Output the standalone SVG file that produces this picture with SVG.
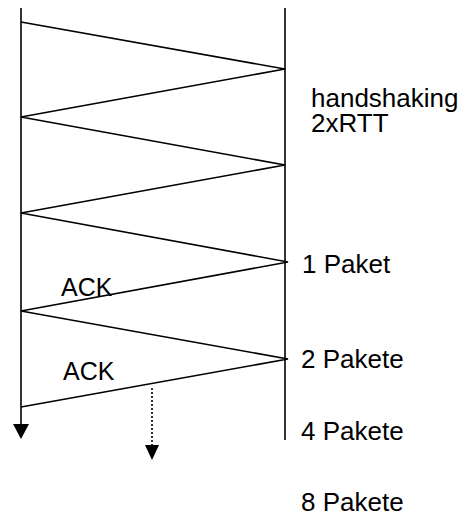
<svg xmlns="http://www.w3.org/2000/svg" width="474" height="515" viewBox="0 0 474 515">
<style>
.ln{stroke:#000;stroke-width:1.6;fill:none}
.t{font-family:"Liberation Sans",Arial,sans-serif;font-size:26px;fill:#000}
.a{font-size:25px}
</style>
<rect width="474" height="515" fill="#fff"/>
<g id="host-left">
<line class="ln" x1="21" y1="8" x2="21" y2="424"/>
<path d="M13,424 L29,424 L21,439 Z" fill="#000"/>
</g>
<g id="host-right">
<line class="ln" x1="285" y1="8" x2="285" y2="440"/>
</g>
<g id="connectors">
<polyline class="ln" points="21,22 285,69 21,117 285,165 21,213 288,262 21,311 288,359 21,407"/>
<line x1="152" y1="388" x2="152" y2="445" stroke="#000" stroke-width="1.6" stroke-dasharray="2,2"/>
<path d="M145,445 L159,445 L152,460 Z" fill="#000"/>
</g>
<g id="labels">
<text class="t" x="311" y="107">handshaking</text>
<text class="t" x="311" y="132">2xRTT</text>
<text class="t" x="302" y="273">1 Paket</text>
<text class="t" x="301" y="368">2 Pakete</text>
<text class="t" x="301" y="440">4 Pakete</text>
<text class="t" x="301" y="511">8 Pakete</text>
<text class="t a" x="61" y="296">ACK</text>
<text class="t a" x="63" y="380">ACK</text>
</g>
</svg>
